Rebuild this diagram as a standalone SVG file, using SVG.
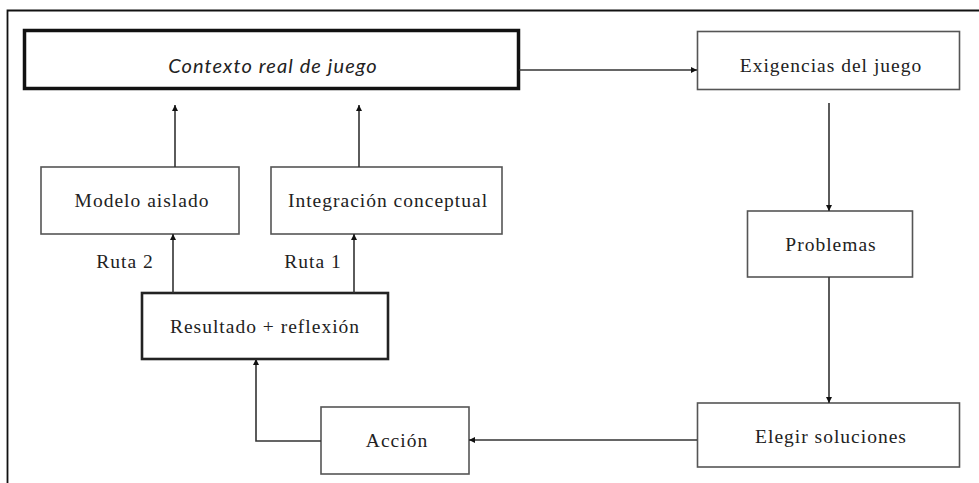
<svg xmlns="http://www.w3.org/2000/svg" width="979" height="483" viewBox="0 0 979 483">
<defs>
<style>
.box{fill:#fff;stroke:#555;stroke-width:1.6}
.thick{fill:#fff;stroke:#111;stroke-width:3.5}
.mid{fill:#fff;stroke:#222;stroke-width:2.6}
.t{font-family:"Liberation Serif","Times New Roman",serif;font-size:19.5px;fill:#222;text-anchor:middle;letter-spacing:1px}
.ti{font-family:Lato,"Liberation Sans",sans-serif;font-style:italic;font-size:20px;fill:#222;text-anchor:middle;letter-spacing:1.1px}
.c{fill:none;stroke:#333;stroke-width:1.6}
</style>
<marker id="ah" viewBox="0 0 10 10" refX="10" refY="5" markerWidth="6" markerHeight="6" markerUnits="userSpaceOnUse" orient="auto">
<path d="M0,0 L10,5 L0,10 z" fill="#111"/>
</marker>
</defs>
<rect width="979" height="483" fill="#fff"/>
<path d="M7.5,483 V10.5 H979" fill="none" stroke="#111" stroke-width="1.8"/>
<g id="contexto"><rect class="thick" x="24.5" y="30.5" width="494" height="58"/><text class="ti" x="273" y="73">Contexto real de juego</text></g>
<g id="exigencias"><rect class="box" x="697.5" y="31.5" width="262" height="58"/><text class="t" x="831" y="72">Exigencias del juego</text></g>
<g id="problemas"><rect class="box" x="747.5" y="211" width="165" height="66"/><text class="t" x="831" y="251">Problemas</text></g>
<g id="elegir"><rect class="box" x="697.5" y="403" width="262" height="64"/><text class="t" x="831" y="443">Elegir soluciones</text></g>
<g id="accion"><rect class="box" x="321" y="407" width="148" height="67"/><text class="t" x="397" y="447">Acción</text></g>
<g id="resultado"><rect class="mid" x="142" y="293" width="246" height="66"/><text class="t" x="265" y="333">Resultado + reflexión</text></g>
<g id="modelo"><rect class="box" x="41" y="167" width="198" height="67"/><text class="t" x="142" y="207">Modelo aislado</text></g>
<g id="integracion"><rect class="box" x="271" y="167" width="231" height="67"/><text class="t" x="388" y="207">Integración conceptual</text></g>
<g id="labels"><text class="t" x="125" y="268">Ruta 2</text><text class="t" x="313" y="268">Ruta 1</text></g>
<g id="connectors">
<path class="c" d="M519,70 H697" marker-end="url(#ah)"/>
<path class="c" d="M829,103 V211" marker-end="url(#ah)"/>
<path class="c" d="M829,277 V403" marker-end="url(#ah)"/>
<path class="c" d="M697,440 H469" marker-end="url(#ah)"/>
<path class="c" d="M321,441 H256 V359" marker-end="url(#ah)"/>
<path class="c" d="M173,293 V234" marker-end="url(#ah)"/>
<path class="c" d="M354,293 V234" marker-end="url(#ah)"/>
<path class="c" d="M175,167 V105" marker-end="url(#ah)"/>
<path class="c" d="M359,167 V105" marker-end="url(#ah)"/>
</g>
</svg>
